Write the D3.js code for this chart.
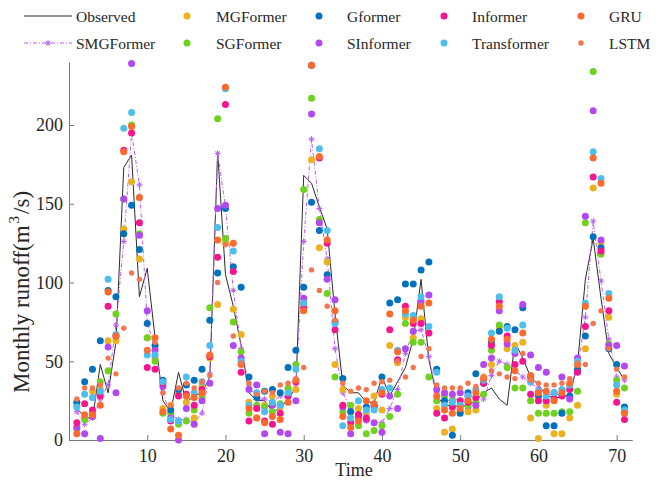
<!DOCTYPE html>
<html><head><meta charset="utf-8">
<script src="https://cdn.jsdelivr.net/npm/d3@7"></script>
<style>
body{margin:0;background:#fff}
svg{display:block}
text{font-family:"Liberation Serif","Times New Roman",serif;fill:#262626}
</style>
</head><body><svg id="chart" width="669" height="485"></svg>
<script>
// ---- data ----
const time = d3.range(1, 72);
const xTicks = [10, 20, 30, 40, 50, 60, 70];
const yTicks = [0, 50, 100, 150, 200];

const observed = [20,15,13,48,30,62,173,181,91,109, 65,25,18,43,24,28,30,40,183,105,
  85,60,30,25,25,18,20,26,33,168, 163,148,134,80,35,30,30,24,24,40,
  28,37,46,64,102,51,28,22,22,21, 22,25,30,33,26,22,62,52,40,35,
  28,27,27,29,48,102,128,90,55,46, 38];
const smgformer = [18,10,14,26,35,73,126,195,162,75, 57,30,16,13,13,11,17,42,182,148,
  95,58,35,26,26,24,28,27,35,126, 191,147,115,58,30,20,15,12,11,11,
  20,32,55,69,70,53,30,22,28,24, 20,22,26,41,50,48,44,40,36,33,
  30,28,30,34,45,78,139,101,64,40, 38];
const mgformer = [22,14,31,32,63,63,134,164,115,65, 52,20,22,30,24,14,34,52,86,125,
  83,67,24,14,22,28,21,32,32,87, 178,122,113,48,32,14,20,17,28,19,
  60,49,78,65,77,68,20,5,7,18, 18,19,40,48,71,58,60,62,14,1,
  22,4,4,14,22,58,160,125,78,29, 18];
const gformer = [24,37,45,63,95,91,131,149,121,74, 60,38,19,32,35,38,45,76,106,147,
  110,97,40,27,31,32,30,46,57,97, 151,133,105,75,39,18,16,21,22,40,
  87,89,99,99,108,113,45,25,3,17, 30,42,36,62,69,72,70,84,40,28,
  9,9,17,28,45,66,129,122,58,48, 21];
const informer = [11,23,19,28,85,66,184,195,138,46, 45,36,12,28,29,22,32,53,116,213,
  107,43,12,20,12,10,17,28,37,84, 238,179,125,70,22,11,16,14,21,29,
  70,51,85,74,74,68,17,14,21,25, 24,27,36,60,88,66,48,50,29,25,
  25,26,28,32,43,72,167,120,82,24, 13];
const gru = [4,16,16,22,94,66,183,199,154,57, 65,18,7,3,28,27,30,54,127,224,
  125,48,20,14,11,15,13,24,38,82, 238,180,127,82,15,8,12,25,23,30,
  80,56,82,76,85,87,28,19,17,20, 25,30,39,64,85,64,44,68,41,30,
  31,25,30,36,48,85,179,163,90,31, 17];
const sgformer = [7,13,17,37,44,80,153,200,131,65, 50,17,17,10,12,19,27,84,204,128,
  75,56,17,22,21,18,23,33,48,159, 217,140,93,40,18,22,9,4,6,9,
  15,29,74,62,62,40,25,28,25,22, 22,24,29,57,73,46,33,33,25,17,
  17,17,18,18,31,138,234,118,61,38, 33];
const sinformer = [8,4,15,1,59,30,153,239,130,82, 57,34,14,0,20,10,25,36,147,149,
  60,52,32,35,4,22,5,4,25,90, 207,138,102,89,21,4,14,13,11,5,
  28,20,58,69,88,92,32,30,29,30, 28,22,48,52,82,61,55,86,54,46,
  43,30,40,26,52,142,209,127,60,60, 47];
const transformer = [21,29,27,31,102,67,198,208,154,54, 54,37,13,12,40,30,37,60,135,223,
  120,50,22,30,18,24,22,30,45,87, 238,185,133,74,9,14,25,19,19,32,
  33,57,80,79,91,72,43,22,24,22, 28,32,38,68,91,71,57,73,37,31,
  28,30,32,35,50,87,183,166,93,35, 19];
const lstm = [26,33,33,35,52,42,71,106,102,57, 62,30,22,33,36,33,37,41,100,124,
  66,49,36,29,31,30,35,36,39,46, 108,95,85,76,36,31,33,32,36,37,
  38,50,40,46,53,58,35,33,33,33, 36,34,40,44,42,40,39,55,38,36,
  35,35,36,39,49,48,74,82,58,45, 40];

// draw order (column-major legend order)
const scatterSeries = [
  {name: "MGFormer", values: mgformer, color: "#EDB120", r: 3.5},
  {name: "SGFormer", values: sgformer, color: "#6ED21F", r: 3.5},
  {name: "Gformer", values: gformer, color: "#0072BD", r: 3.5},
  {name: "SInformer", values: sinformer, color: "#B348F2", r: 3.5},
  {name: "Informer", values: informer, color: "#F7148F", r: 3.5},
  {name: "Transformer", values: transformer, color: "#4DBEEE", r: 3.5},
  {name: "GRU", values: gru, color: "#FF6A2C", r: 3.5},
  {name: "LSTM", values: lstm, color: "#F5754F", r: 2.7}
];
const obsColor = "#2b2b2b", smgColor = "#B860F2";

// ---- scales ----
const x = d3.scaleLinear().domain([0, 72]).range([69, 632.3]);
const y = d3.scaleLinear().domain([0, 240]).range([440, 62]);
const svg = d3.select("#chart");

// ---- axes ----
const axisColor = "#7a7a7a";
const gx = svg.append("g").attr("transform", "translate(0,440)")
  .call(d3.axisBottom(x).tickValues(xTicks).tickSizeInner(-5).tickSizeOuter(0).tickPadding(9));
const gy = svg.append("g").attr("transform", "translate(69,0)")
  .call(d3.axisLeft(y).tickValues(yTicks).tickSizeInner(-5).tickSizeOuter(0).tickPadding(6));
[gx, gy].forEach(g => {
  g.select(".domain").attr("stroke", axisColor).attr("stroke-width", 1);
  g.selectAll(".tick line").attr("stroke", axisColor);
  g.selectAll(".tick text").attr("font-size", 18).attr("fill", "#262626")
    .attr("font-family", '"Liberation Serif","Times New Roman",serif');
});

// axis labels
svg.append("text").attr("x", 354).attr("y", 476).attr("text-anchor", "middle")
  .attr("font-size", 18).text("Time");
const yl = svg.append("text").attr("transform", "translate(29,292) rotate(-90)")
  .attr("text-anchor", "middle").attr("font-size", 23);
yl.append("tspan").text("Monthly runoff(m");
yl.append("tspan").attr("dy", -10).attr("dx", 2).attr("font-size", 15).text("3");
yl.append("tspan").attr("dy", 10).attr("dx", 2).text("/s)");

// ---- plot ----
const line = d3.line().x((d, i) => x(time[i])).y(d => y(d));
svg.append("path").datum(observed).attr("d", line)
  .attr("fill", "none").attr("stroke", obsColor).attr("stroke-width", 1);
svg.append("path").datum(smgformer).attr("d", line)
  .attr("fill", "none").attr("stroke", smgColor).attr("stroke-width", 1)
  .attr("stroke-dasharray", "4,2,1,2");

function starPath(cx, cy, r) {
  let p = "";
  for (let k = 0; k < 4; k++) {
    const a = k * Math.PI / 4;
    const dx = r * Math.cos(a), dy = r * Math.sin(a);
    p += `M${cx - dx},${cy - dy}L${cx + dx},${cy + dy}`;
  }
  return p;
}
svg.append("g").selectAll("path").data(smgformer).join("path")
  .attr("d", (d, i) => starPath(x(time[i]), y(d), 3))
  .attr("stroke", smgColor).attr("stroke-width", 1).attr("fill", "none");

scatterSeries.forEach(s => {
  svg.append("g").selectAll("circle").data(s.values).join("circle")
    .attr("cx", (d, i) => x(time[i])).attr("cy", d => y(d))
    .attr("r", s.r).attr("fill", s.color);
});

// ---- legend ----
const leg = svg.append("g");
const row1 = 16, row2 = 43;
leg.append("line").attr("x1", 24).attr("x2", 72).attr("y1", row1).attr("y2", row1)
  .attr("stroke", obsColor).attr("stroke-width", 1);
leg.append("text").attr("x", 76).attr("y", row1 + 5.5).attr("font-size", 15.5).text("Observed");
leg.append("line").attr("x1", 24).attr("x2", 72).attr("y1", row2).attr("y2", row2)
  .attr("stroke", smgColor).attr("stroke-width", 1).attr("stroke-dasharray", "4,2,1,2");
leg.append("path").attr("d", starPath(48, row2, 3)).attr("stroke", smgColor).attr("fill", "none");
leg.append("text").attr("x", 76).attr("y", row2 + 5.5).attr("font-size", 15.5).text("SMGFormer");

const legendItems = [
  {name: "MGFormer", col: 0, row: row1}, {name: "SGFormer", col: 0, row: row2},
  {name: "Gformer", col: 1, row: row1}, {name: "SInformer", col: 1, row: row2},
  {name: "Informer", col: 2, row: row1}, {name: "Transformer", col: 2, row: row2},
  {name: "GRU", col: 3, row: row1}, {name: "LSTM", col: 3, row: row2}
];
const colDot = [187, 319, 444, 581], colText = [216, 347, 472, 609];
legendItems.forEach(it => {
  const s = scatterSeries.find(z => z.name === it.name);
  leg.append("circle").attr("cx", colDot[it.col]).attr("cy", it.row)
    .attr("r", s.r).attr("fill", s.color);
  leg.append("text").attr("x", colText[it.col]).attr("y", it.row + 5.5)
    .attr("font-size", 15.5).text(it.name);
});
</script>
</body></html>
